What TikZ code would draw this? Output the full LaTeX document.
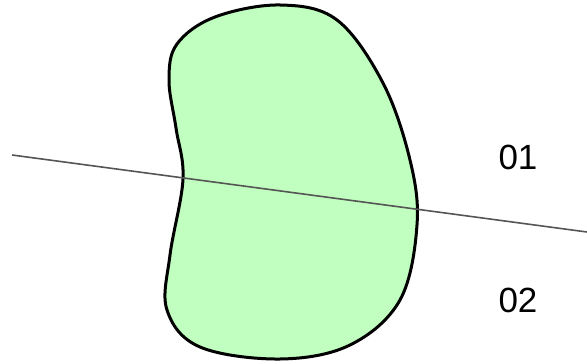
\documentclass[tikz,border=0pt]{standalone}
\usepackage{fontspec}
\setmainfont{Liberation Sans}
\definecolor{beanfill}{HTML}{C0FFC0}
\definecolor{cutline}{HTML}{555555}
\begin{document}
\begin{tikzpicture}[x=1pt,y=-1pt,
  bean/.style={draw=black,line width=3pt,fill=beanfill},
  cut/.style={draw=cutline,line width=1.6pt},
  lbl/.style={font=\fontsize{35}{40}\selectfont,inner sep=0pt,anchor=center}]
\useasboundingbox (0,0) rectangle (587,364);
\draw[bean] plot[smooth cycle,tension=0.6] coordinates {
  (280,5) (337,20) (383,83) (410,160) (417,225) (400,300) (350,345)
  (280,359) (200,347) (167,310) (170,255) (183,179) (176,128)
  (169,80) (177,44) (215,17)};
\coordinate (L) at (12,155);
\coordinate (R) at (587,232);
\draw[cut] (L) -- (R);
\node[lbl] (a) at (518,157) {01};
\node[lbl] (b) at (518,300) {02};
\end{tikzpicture}
\end{document}
